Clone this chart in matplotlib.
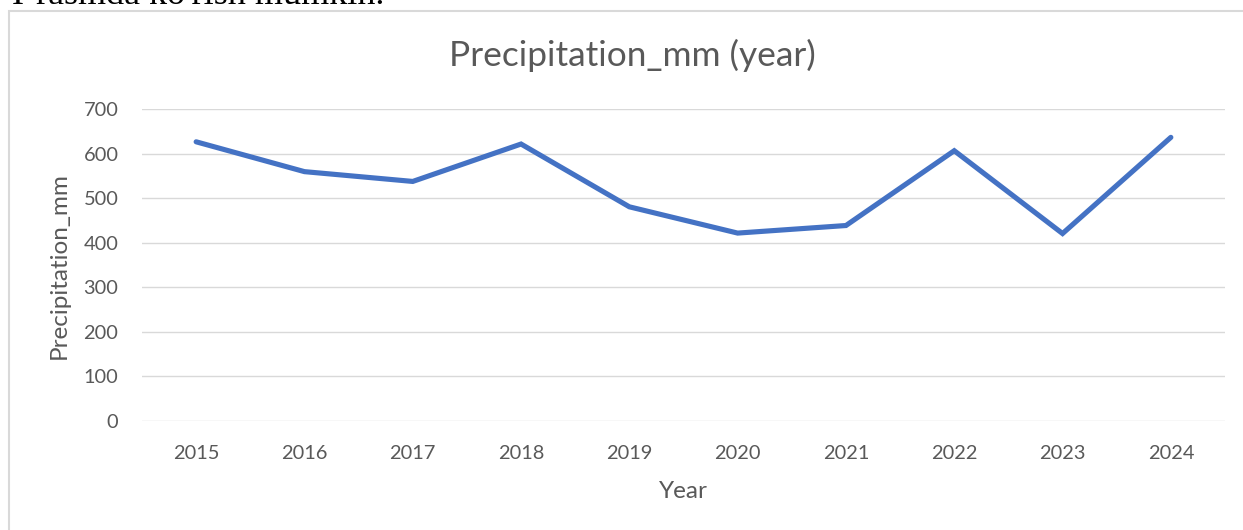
import matplotlib
matplotlib.use("Agg")
import matplotlib.pyplot as plt
from matplotlib.patches import Rectangle

# data
years = ["2015", "2016", "2017", "2018", "2019", "2020", "2021", "2022", "2023", "2024"]
precip_mm = [627, 560, 538, 622, 481, 422, 439, 607, 421, 637]
y_ticks = [0, 100, 200, 300, 400, 500, 600, 700]

plt.rcParams['font.family'] = ['Lato', 'DejaVu Sans']

fig = plt.figure(figsize=(12.43, 5.30), dpi=100)
fig.patch.set_facecolor("white")

# chart frame (only left and top edges show in the crop)
frame = Rectangle((9 / 1243, -0.2), 1.2, 1.2 - 11 / 530,
                  transform=fig.transFigure, fill=False,
                  edgecolor="#D9D9D9", linewidth=1.5)
fig.patches.append(frame)

# cut-off line of document text above the chart
fig.text(12 / 1243, 1 - 4 / 530, "I-rasmda ko'rish mumkin.",
         family="Liberation Serif", fontsize=26, color="black",
         ha="left", va="baseline")

ax = fig.add_axes([142 / 1243, 1 - 421 / 530, (1225 - 142) / 1243, (421 - 109.3) / 530])
x = list(range(len(years)))
ax.plot(x, precip_mm, color="#4472C4", linewidth=3.7, solid_capstyle="round",
        solid_joinstyle="miter", zorder=3)

ax.set_xlim(-0.5, len(years) - 0.5)
ax.set_ylim(0, 700)
ax.set_xticks(x)
ax.set_xticklabels(years)
ax.set_yticks(y_ticks)
ax.grid(axis="y", color="#D9D9D9", linewidth=1.0)
ax.set_axisbelow(True)
for s in ax.spines.values():
    s.set_visible(False)
ax.tick_params(length=0, labelsize=14.4, colors="#595959")
ax.tick_params(axis="y", pad=17)
ax.tick_params(axis="x", pad=17)

# title is centred on the whole chart box, not the plot area
fig.text(632 / 1243, 1 - 55 / 530, "Precipitation_mm (year)", fontsize=25.4,
         color="#595959", ha="center", va="center")
ax.set_xlabel("Year", fontsize=17.5, color="#595959", labelpad=14)
ax.set_ylabel("Precipitation_mm", fontsize=17.5, color="#595959", labelpad=10)

fig.savefig("out.png", dpi=100, facecolor="white")
